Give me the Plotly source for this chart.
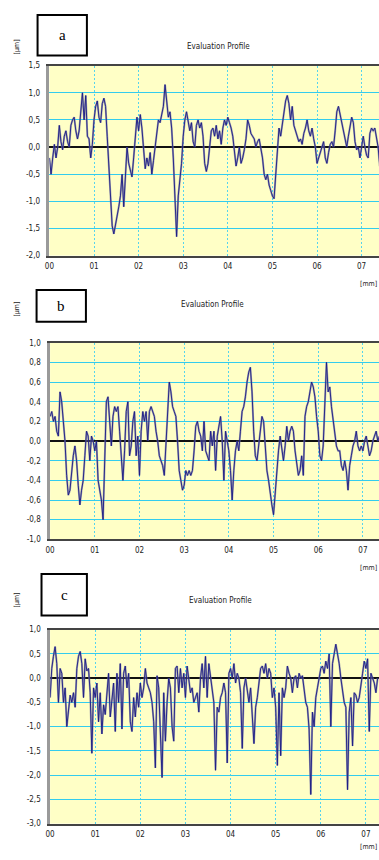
import plotly.graph_objects as go

W, H = 379, 860
STEP_MM = 1 / 270  # profile sampling step (mm)

# ---- data (µm), sampled every STEP_MM ----
a_y = [-0.2, -0.5, -0.2, 0.05, -0.2, 0.0, 0.4, 0.1, -0.05, 0.2, 0.3, 0.1, 0.0, 0.4, 0.5, 0.55, 0.3, 0.15, 0.3, 0.7,
       1.0, 0.5, 0.95, 0.2, 0.15, -0.2, 0.05, 0.5, 0.75, 0.85, 0.55, 0.45, 0.8, 0.9, 0.75, 0.2, -0.45, -1.0, -1.45, -1.6,
       -1.45, -1.3, -1.1, -0.9, -0.5, -1.1, -0.4, 0.0, -0.3, -0.45, -0.55, -0.2, 0.2, 0.55, 0.3, 0.6, 0.35, 0.0, -0.4, -0.2,
       -0.35, -0.1, -0.5, -0.25, 0.0, 0.3, 0.5, 0.45, 0.6, 0.75, 1.15, 0.8, 0.55, 0.65, 0.35, -0.2, -0.8, -1.65, -0.9, -0.65,
       -0.3, 0.2, 0.5, 0.65, 0.5, 0.3, 0.45, 0.1, 0.0, 0.4, 0.5, 0.35, 0.45, 0.2, -0.3, -0.45, -0.3, 0.0, 0.3, 0.35,
       0.2, 0.4, 0.15, 0.3, 0.05, 0.35, 0.5, 0.4, 0.55, 0.45, 0.35, 0.2, -0.1, -0.35, -0.2, 0.0, -0.3, -0.2, -0.05, 0.15,
       0.5, 0.4, 0.25, 0.2, 0.15, 0.0, 0.1, 0.15, 0.0, -0.2, -0.5, -0.6, -0.5, -0.7, -0.8, -0.9, -0.95, -0.5, 0.0, 0.35,
       0.2, 0.45, 0.7, 0.85, 0.95, 0.8, 0.5, 0.75, 0.4, 0.3, 0.2, 0.1, 0.15, 0.05, 0.25, 0.35, 0.5, 0.3, 0.2, 0.35,
       0.15, 0.0, -0.3, -0.2, -0.1, 0.0, 0.1, -0.2, -0.3, -0.1, 0.05, 0.1, 0.0, 0.3, 0.65, 0.75, 0.6, 0.45, 0.3, 0.1,
       0.0, 0.2, 0.4, 0.55, 0.45, 0.1, -0.05, 0.0, -0.2, 0.05, 0.2, 0.0, -0.15, -0.2, 0.25, 0.35, 0.3, 0.35, 0.2, 0.0,
       -0.35]

b_y = [0.25, 0.3, 0.2, 0.25, 0.1, 0.05, 0.5, 0.4, 0.2, 0.0, -0.35, -0.55, -0.5, -0.3, -0.15, -0.05, -0.2, -0.45, -0.65, -0.5,
       -0.4, -0.15, 0.1, 0.05, -0.2, 0.05, 0.0, -0.1, 0.0, -0.4, -0.5, -0.6, -0.8, -0.2, 0.4, 0.45, 0.2, -0.05, 0.25, 0.35,
       0.3, 0.35, 0.1, -0.2, -0.4, -0.1, 0.3, 0.4, -0.15, -0.05, 0.2, 0.3, -0.15, 0.05, -0.35, 0.1, 0.3, 0.2, 0.3, 0.0,
       0.3, 0.35, 0.3, 0.25, 0.1, 0.0, -0.15, -0.2, -0.25, -0.35, -0.05, 0.25, 0.6, 0.5, 0.35, 0.3, 0.25, 0.0, -0.3, -0.4,
       -0.5, -0.45, -0.3, -0.35, -0.3, -0.35, -0.3, -0.1, 0.15, 0.2, 0.1, 0.05, -0.1, 0.2, -0.1, -0.15, -0.2, 0.1, -0.05, 0.1,
       -0.3, 0.05, 0.15, 0.25, 0.0, -0.4, 0.1, 0.0, -0.1, -0.3, -0.6, -0.3, -0.1, 0.0, -0.1, 0.1, 0.3, 0.35, 0.45, 0.6,
       0.7, 0.75, 0.5, 0.1, -0.15, -0.2, -0.05, 0.15, 0.25, 0.2, -0.05, -0.3, -0.4, -0.55, -0.65, -0.75, -0.5, -0.3, -0.1, 0.05,
       -0.1, -0.2, -0.05, 0.15, 0.0, 0.1, 0.15, 0.1, -0.1, -0.25, -0.35, -0.3, -0.15, -0.35, 0.25, 0.35, 0.4, 0.5, 0.6, 0.55,
       0.45, 0.25, 0.1, -0.15, -0.2, -0.05, 0.3, 0.8, 0.5, 0.55, 0.35, 0.2, 0.05, -0.05, -0.1, -0.1, -0.25, -0.3, -0.2, -0.3,
       -0.5, -0.25, -0.15, -0.05, 0.0, 0.1, -0.05, -0.1, -0.05, -0.1, 0.0, 0.05, -0.05, -0.15, -0.1, 0.0, 0.05, 0.1, 0.0, 0.05]

c_y = [-0.4, 0.2, 0.45, 0.65, 0.3, -0.5, 0.2, 0.1, -0.5, -0.2, -1.0, -0.6, -0.35, -0.5, -0.3, -0.6, 0.2, 0.45, 0.55, 0.3,
       -0.4, 0.4, 0.15, 0.2, -0.3, -1.55, -0.2, -0.4, -0.1, -0.9, -0.3, -1.15, -0.55, -0.75, -0.4, 0.1, -0.8, -0.5, -0.1, -1.1,
       0.1, -0.5, 0.3, -1.05, 0.1, 0.25, -0.2, 0.1, -0.9, -1.1, -0.4, -0.8, -0.3, -0.6, -0.1, -0.4, -0.2, 0.2, -0.1, -0.2,
       -0.3, -0.5, -0.9, -1.85, 0.05, -0.2, -1.15, -2.05, -0.3, -1.3, -0.5, 0.0, -0.2, -1.0, -1.3, 0.2, 0.25, -0.3, 0.2, -0.2,
       0.1, -0.4, 0.25, 0.0, -0.3, -0.2, -0.5, -0.4, -0.3, -0.7, 0.0, 0.3, -0.2, 0.45, -0.4, 0.3, 0.0, -0.3, -0.5, -1.9,
       -0.6, -0.7, -0.4, -0.3, -0.1, -0.3, -1.75, 0.1, 0.2, 0.0, 0.3, -0.1, 0.1, 0.0, -0.3, -1.45, -0.2, 0.0, -0.3, -0.5,
       -0.2, -0.8, -1.35, -0.6, -0.4, -0.1, 0.2, 0.25, 0.1, 0.3, 0.0, 0.2, 0.1, -0.4, -0.2, -0.6, -1.8, -0.3, -1.6, -0.2,
       -0.4, -0.2, 0.25, 0.1, 0.0, -0.3, 0.0, 0.05, -0.2, 0.1, 0.0, 0.05, -0.3, -0.5, -0.6, -1.05, -2.4, -0.7, -1.0, -0.4,
       -0.2, 0.0, 0.2, 0.25, 0.1, 0.35, 0.2, 0.5, -1.0, 0.3, 0.55, 0.7, 0.5, 0.3, 0.0, -0.3, -0.5, -0.6, -2.3, -0.7,
       -0.4, -1.4, -0.3, -0.35, -0.5, -0.4, -0.1, 0.1, 0.35, 0.2, 0.4, -1.1, 0.1, 0.0, -0.1, -0.3, 0.0]

x_tickvals = [0.0, 0.1, 0.2, 0.3, 0.4, 0.5, 0.6, 0.7]
x_ticktext = ["00", "01", "02", "03", "04", "05", "06", "07"]

a_yticks = [1.5, 1.0, 0.5, 0.0, -0.5, -1.0, -1.5, -2.0]
b_yticks = [1.0, 0.8, 0.6, 0.4, 0.2, 0.0, -0.2, -0.4, -0.6, -0.8, -1.0]
c_yticks = [1.0, 0.5, 0.0, -0.5, -1.0, -1.5, -2.0, -2.5, -3.0]

panel_labels = ["a", "b", "c"]
title_text = "Evaluation Profile"
y_unit = "[µm]"
x_unit = "[mm]"


def fmt(v):
    return f"{v:.1f}".replace(".", ",")


def px(x):
    return x / W


def py(y):
    return 1 - y / H


NARROW = "Liberation Sans Narrow, DejaVu Sans Condensed, Arial Narrow, sans-serif"
LINE_DARK = "#1a1a84"
LINE_HALO = "rgba(125,125,165,0.7)"
GRID = "#33ccee"
VGRID = "#55d4ee"
BG = "#ffffc6"

# panel geometry in pixels: left, top, bottom, x-range max, y-range
panels = [
    dict(y=a_y, left=45, top=62.3, bottom=254.3, xmax=0.739, yr=[-2.0, 1.5], ticks=a_yticks,
         box=(33, 11, 83, 52), title_xy=(216, 43), yunit_xy=(12, 43), xunit_xy=(368, 283)),
    dict(y=b_y, left=45.7, top=342.3, bottom=541, xmax=0.736, yr=[-1.0, 1.0], ticks=b_yticks,
         box=(32, 289, 82, 321), title_xy=(210, 304), yunit_xy=(12, 308), xunit_xy=(368, 570)),
    dict(y=c_y, left=45.7, top=632.3, bottom=828.3, xmax=0.729, yr=[-3.0, 1.0], ticks=c_yticks,
         box=(37, 576, 83, 618), title_xy=(218, 603), yunit_xy=(12, 602), xunit_xy=(368, 852)),
]

fig = go.Figure()
layout = dict(width=W, height=H, margin=dict(l=0, r=0, t=0, b=0), showlegend=False,
              paper_bgcolor="white", plot_bgcolor=BG, shapes=[], annotations=[])

for i, p in enumerate(panels):
    n = i + 1
    xs = [k * STEP_MM for k in range(len(p["y"]))]
    xa = "x" if n == 1 else f"x{n}"
    ya = "y" if n == 1 else f"y{n}"
    for color, width in [(LINE_HALO, 2.0), (LINE_DARK, 0.9)]:
        fig.add_trace(go.Scatter(x=xs, y=p["y"], mode="lines", xaxis=xa, yaxis=ya,
                                 line=dict(color=color, width=width), hoverinfo="skip"))
    xkey = "xaxis" if n == 1 else f"xaxis{n}"
    ykey = "yaxis" if n == 1 else f"yaxis{n}"
    layout[xkey] = dict(domain=[px(p["left"]), 1.0], range=[0, p["xmax"]], anchor=ya,
                        tickvals=x_tickvals, ticktext=x_ticktext, showgrid=True, gridcolor=VGRID,
                        griddash="2px,2px", gridwidth=1, zeroline=False, showline=True, linecolor="#444",
                        linewidth=1.5, mirror=True, ticks="", ticklabelstandoff=2,
                        tickfont=dict(family=NARROW, size=8, color="#222"))
    layout[ykey] = dict(domain=[py(p["bottom"]), py(p["top"])], range=p["yr"], anchor=xa,
                        tickvals=p["ticks"], ticktext=[fmt(v) for v in p["ticks"]], showgrid=True,
                        gridcolor=GRID, gridwidth=1.2, zeroline=True, zerolinecolor="#111",
                        zerolinewidth=1.5, showline=True, linecolor="#9a9a9a", linewidth=2.5,
                        ticks="", ticklabelstandoff=5, tickfont=dict(family=NARROW, size=8, color="#222"))
    bx0, by0, bx1, by1 = p["box"]
    layout["shapes"].append(dict(type="rect", xref="paper", yref="paper", x0=px(bx0), x1=px(bx1),
                                 y0=py(by1), y1=py(by0), line=dict(color="black", width=2),
                                 fillcolor="white", layer="above"))
    layout["annotations"].append(dict(text=panel_labels[i], xref="paper", yref="paper",
                                      x=px((bx0 + bx1) / 2), y=py((by0 + by1) / 2), showarrow=False,
                                      xanchor="center", yanchor="middle",
                                      font=dict(family="Liberation Serif, DejaVu Serif, serif", size=15,
                                                color="black")))
    tx, ty = p["title_xy"]
    layout["annotations"].append(dict(text=title_text, xref="paper", yref="paper", x=px(tx), y=py(ty),
                                      showarrow=False, xanchor="center", yanchor="middle",
                                      font=dict(family=NARROW, size=8, color="#222")))
    ux, uy = p["yunit_xy"]
    layout["annotations"].append(dict(text=y_unit, xref="paper", yref="paper", x=px(ux), y=py(uy),
                                      showarrow=False, xanchor="center", yanchor="middle", textangle=-90,
                                      font=dict(family=NARROW, size=7, color="#222")))
    mx, my = p["xunit_xy"]
    layout["annotations"].append(dict(text=x_unit, xref="paper", yref="paper", x=px(mx), y=py(my),
                                      showarrow=False, xanchor="center", yanchor="middle",
                                      font=dict(family=NARROW, size=7, color="#222")))

fig.update_layout(**layout)
fig.write_html("out.html", config={"displayModeBar": False},
               post_script="document.body.style.margin='0';document.body.style.overflow='hidden';")
